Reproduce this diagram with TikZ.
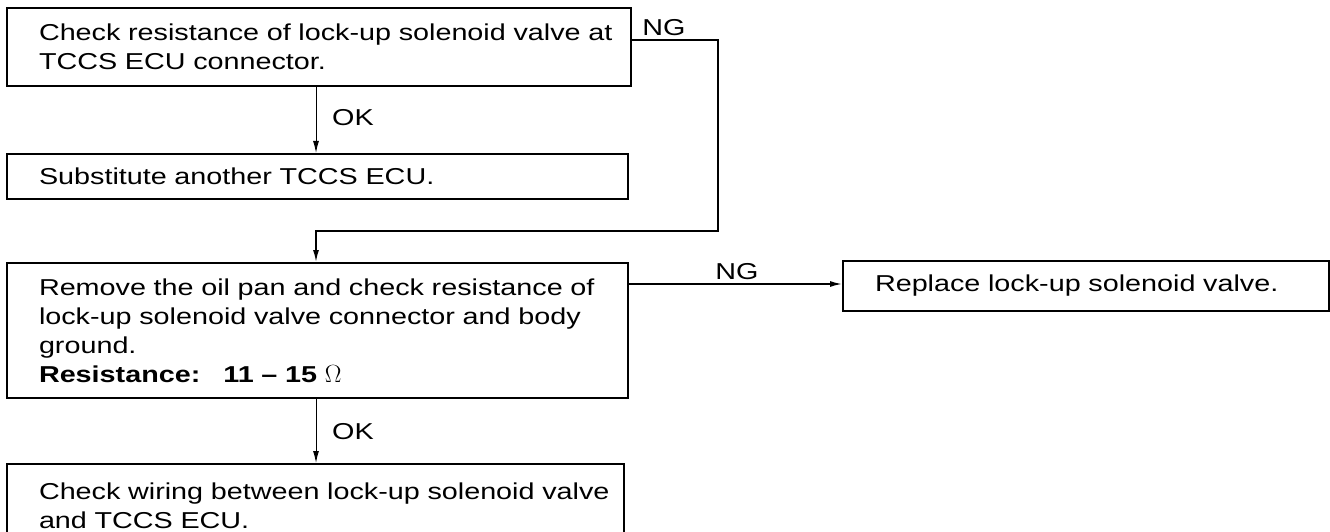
\documentclass[tikz,border=0pt]{standalone}
\usepackage{fontspec}
\setmainfont{Liberation Sans}[FakeStretch=1.25]
\usetikzlibrary{arrows.meta}
\begin{document}
\begin{tikzpicture}[x=1pt,y=-1pt,
  txt/.style={font=\fontsize{23}{29}\selectfont},
  box/.style={draw, line width=2pt, anchor=north west, align=left,
    inner xsep=32pt, inner ysep=0pt, txt},
  conn/.style={line width=1.5pt},
  okline/.style={line width=1pt},
  tip/.style={-{Latex[length=12pt,width=6pt]}},
  lbl/.style={inner sep=0pt, txt}]
\clip (0,0) rectangle (1330,532);
\node[box, text width=560pt, minimum height=78pt] (b1) at (6,7)
  {\mbox{Check resistance of lock-up solenoid valve at}\\\mbox{TCCS ECU connector.}};
\node[box, text width=557pt, minimum height=45pt] (b2) at (6,153)
  {\mbox{Substitute another TCCS ECU.}};
\node[box, text width=557pt, minimum height=135pt] (b3) at (6,262)
  {\mbox{Remove the oil pan and check resistance of}\\\mbox{lock-up solenoid valve connector and body}\\\mbox{ground.}\\\mbox{\textbf{Resistance:}\hspace{1em}\textbf{11 -- 15} $\Omega$}};
\node[box, text width=553pt, minimum height=84pt] (b4) at (6,463)
  {\mbox{Check wiring between lock-up solenoid valve}\\\mbox{and TCCS ECU.}};
\node[box, text width=422pt, minimum height=50pt] (b5) at (842,260)
  {\mbox{Replace lock-up solenoid valve.}};
\coordinate (ng1) at (718,40);
\coordinate (t1) at (718,231);
\coordinate (t2) at (316,231);
\coordinate (ng2) at (0,284);
\draw[conn, tip] (b1.east |- ng1) -- (ng1) -- (t1) -- (t2) -- (t2 |- b3.north);
\node[lbl, anchor=south] (lng1) at (664,36) {NG};
\draw[okline, tip] (b1.south -| t2) -- (b2.north -| t2);
\node[lbl, anchor=west] (lok1) at (332,118) {OK};
\draw[okline, tip] (b3.south -| t2) -- (b4.north -| t2);
\node[lbl, anchor=west] (lok2) at (332,432) {OK};
\draw[conn, tip] (b3.east |- ng2) -- (b5.west |- ng2);
\node[lbl, anchor=south] (lng2) at (737,280) {NG};
\end{tikzpicture}
\end{document}
